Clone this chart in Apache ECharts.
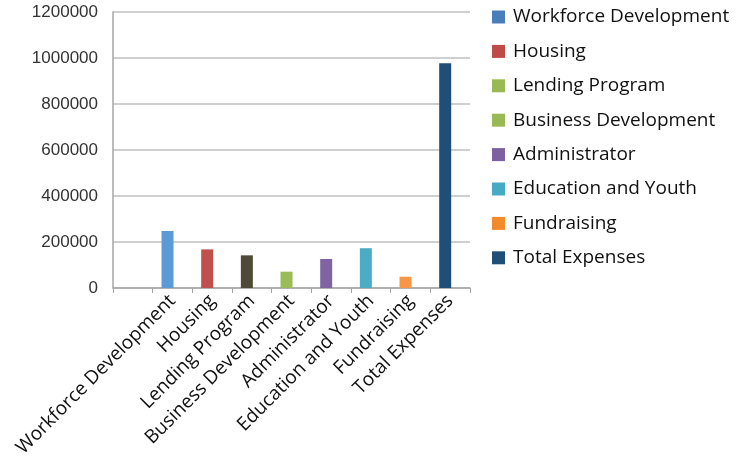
<!DOCTYPE html>
<html>
<head>
<meta charset="utf-8">
<script src="https://cdn.jsdelivr.net/npm/echarts@6/dist/echarts.min.js"></script>
<style>
  html, body { margin: 0; padding: 0; background: #fff; }
  #main { width: 748px; height: 456px; }
</style>
</head>
<body>
<div id="main"></div>
<script>
// categories and values
var categories = ['Workforce Development', 'Housing', 'Lending Program', 'Business Development',
  'Administrator', 'Education and Youth', 'Fundraising', 'Total Expenses'];
var values = [248000, 168000, 142000, 71000, 126000, 173000, 49000, 977000];
var barColors = ['#5b9bd5', '#c0504d', '#4f4a38', '#9bbb59', '#8064a2', '#4bacc6', '#f79646', '#1f4e79'];
var legendColors = ['#4a7ebb', '#be4b48', '#98b954', '#98b954', '#7d60a0', '#46aac5', '#f38a2c', '#1f4e79'];
var yTicks = [0, 200000, 400000, 600000, 800000, 1000000, 1200000];

var chart = echarts.init(document.getElementById('main'));

// first slot of the axis is empty in the original
var axisCats = [''].concat(categories);

var series = [];
for (var i = 0; i < categories.length; i++) {
  var d = [];
  for (var j = 0; j < axisCats.length; j++) d.push('-');
  d[i + 1] = values[i];
  series.push({
    name: categories[i],
    type: 'bar',
    stack: 'one',
    barWidth: 12,
    barGap: '-17%',
    data: d,
    itemStyle: { color: barColors[i] }
  });
}
// empty slot so the bars sit a bit left of the tick centre, like the original
series.push({ name: 'pad', type: 'bar', stack: 'pad', barWidth: 12, data: [] });

var option = {
  backgroundColor: '#ffffff',
  animation: false,
  grid: { left: 113, top: 12, right: 278, bottom: 168, containLabel: false, outerBoundsMode: 'none' },
  legend: {
    orient: 'vertical',
    left: 487,
    top: 0,
    itemWidth: 13,
    itemHeight: 13,
    itemGap: 10.4,
    icon: 'rect',
    data: categories.map(function (c, i) {
      return { name: c, itemStyle: { color: legendColors[i] } };
    }),
    textStyle: {
      fontFamily: 'Open Sans',
      fontSize: 19,
      lineHeight: 24,
      color: '#111',
      padding: [0, 0, 0, 3]
    }
  },
  xAxis: {
    type: 'category',
    data: axisCats,
    boundaryGap: true,
    axisLine: { lineStyle: { color: '#a6a6a6', width: 1.5 } },
    axisTick: { show: true, length: 5, lineStyle: { color: '#a6a6a6' } },
    axisLabel: {
      interval: 0,
      rotate: 45,
      margin: 10,
      fontFamily: 'Open Sans',
      fontSize: 19,
      color: '#111'
    }
  },
  yAxis: {
    type: 'value',
    min: yTicks[0],
    max: yTicks[yTicks.length - 1],
    interval: 200000,
    axisLine: { show: true, lineStyle: { color: '#a6a6a6', width: 1.5 } },
    axisTick: { show: false },
    splitLine: { lineStyle: { color: '#bfbfbf', width: 1.5 } },
    axisLabel: {
      margin: 15,
      fontFamily: 'Liberation Sans',
      fontSize: 17,
      color: '#333',
      formatter: function (v) { return String(v); }
    }
  },
  series: series
};

chart.setOption(option);
</script>
</body>
</html>
